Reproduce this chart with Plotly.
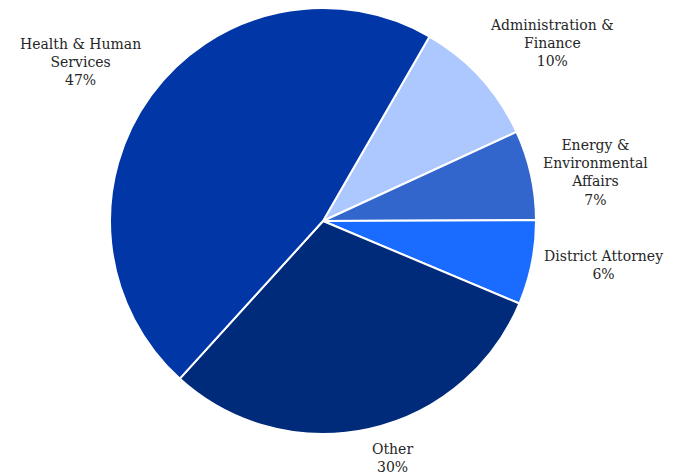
import math
import plotly.graph_objects as go

labels = ["Administration &<br>Finance", "Energy &<br>Environmental<br>Affairs",
          "District Attorney", "Other", "Health & Human<br>Services"]
values = [9.8, 6.8, 6.4, 30.4, 46.6]
colors = ["#adc8ff", "#3366cc", "#1a6bff", "#002b7a", "#0036a6"]

W, H = 681, 474
CX, CY, R = 323, 221, 213   # pie centre / radius in px (layout)
ROT = 30
GAP = 224

fig = go.Figure(go.Pie(
    labels=labels,
    values=values,
    sort=False,
    direction="clockwise",
    rotation=ROT,
    marker=dict(colors=colors, line=dict(color="white", width=2)),
    textinfo="none",
    hoverinfo="label+percent",
    showlegend=False,
    domain=dict(x=[(CX - R) / W, (CX + R) / W], y=[1 - (CY + R) / H, 1 - (CY - R) / H]),
))

# outside labels placed at each slice's mid-angle
total = sum(values)
start = ROT
annotations = []
for lab, v in zip(labels, values):
    sweep = 360 * v / total
    mid = math.radians(start + sweep / 2)
    start += sweep
    s, c = math.sin(mid), math.cos(mid)
    px = CX + GAP * s
    py = CY - GAP * c
    xanchor = "left" if s > 0.1 else ("right" if s < -0.1 else "center")
    yanchor = "bottom" if c > 0.3 else ("top" if c < -0.3 else "middle")
    annotations.append(dict(
        x=px / W, y=1 - py / H, xref="paper", yref="paper",
        text=f"{lab}<br>{round(100 * v / total)}%",
        showarrow=False, xanchor=xanchor, yanchor=yanchor, align="center",
        borderpad=0,
        font=dict(family="DejaVu Serif", size=14, color="#262626"),
    ))

fig.update_layout(
    width=W, height=H,
    margin=dict(l=0, r=0, t=0, b=0),
    paper_bgcolor="white",
    plot_bgcolor="white",
    annotations=annotations,
)
fig.write_html("out.html", config={"displayModeBar": False},
               post_script="document.body.style.margin='0';")
